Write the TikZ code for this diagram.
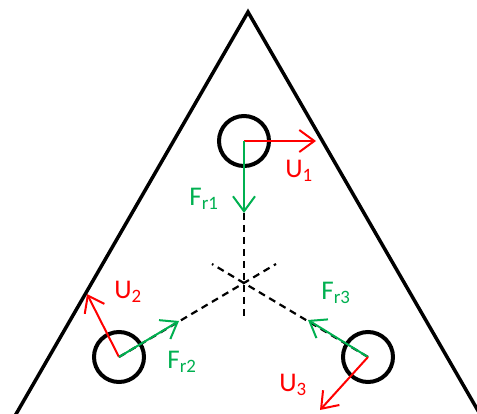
\documentclass[tikz,border=0pt]{standalone}
\usepackage{fontspec}
\setmainfont{Carlito}
\usetikzlibrary{arrows.meta}
\definecolor{fgreen}{RGB}{0,176,80}
\definecolor{fred}{RGB}{255,0,0}
\begin{document}
\begin{tikzpicture}[x=1pt,y=-1pt,
  hole/.style={circle,draw=black,line width=4pt,minimum size=50pt,inner sep=0pt},
  vec/.style={line width=2pt,-{Straight Barb[length=15pt,width=22pt]}},
  axis/.style={line width=2.2pt,dash pattern=on 7pt off 5pt},
  lbl/.style={font=\fontsize{27}{30}\selectfont,inner sep=0pt}]
\useasboundingbox (0,0) rectangle (477,414);
\clip (0,0) rectangle (477,414);
% triangle
\coordinate (apex) at (248,12);
\coordinate (bl) at (8,428);
\coordinate (br) at (488,428);
\draw[line width=3.5pt,line join=miter] (bl) -- (apex) -- (br);
% centre
\coordinate (O) at (244,283);
\coordinate (e1) at (244,320);
\coordinate (e2) at (276,264);
\coordinate (e3) at (212,264);
% holes
\node[hole] (c1) at (244,141) {};
\node[hole] (c2) at (119,357) {};
\node[hole] (c3) at (368,357) {};
% dashed axes
\draw[axis] (c1.center) -- (e1);
\draw[axis] (c2.center) -- (e2);
\draw[axis] (c3.center) -- (e3);
% vector ends
\coordinate (u1) at (316,141);
\coordinate (f1) at (244,213);
\coordinate (u2) at (87,294);
\coordinate (f2) at (179,321);
\coordinate (f3) at (308,320);
\coordinate (u3) at (320,410);
\draw[vec,fred] (c1.center) -- (u1);
\draw[vec,fgreen] (c1.center) -- (f1);
\draw[vec,fred] (c2.center) -- (u2);
\draw[vec,fgreen] (c2.center) -- (f2);
\draw[vec,fgreen] (c3.center) -- (f3);
\draw[vec,fred] (c3.center) -- (u3);
% labels
\node[lbl,text=fred] (lu1) at (299,171) {U\textsubscript{1}};
\node[lbl,text=fgreen] (lf1) at (204,199) {F\textsubscript{r1}};
\node[lbl,text=fred] (lu2) at (128,292) {U\textsubscript{2}};
\node[lbl,text=fgreen] (lf2) at (182,362) {F\textsubscript{r2}};
\node[lbl,text=fgreen] (lf3) at (336,293) {F\textsubscript{r3}};
\node[lbl,text=fred] (lu3) at (293,385) {U\textsubscript{3}};
\end{tikzpicture}
\end{document}
